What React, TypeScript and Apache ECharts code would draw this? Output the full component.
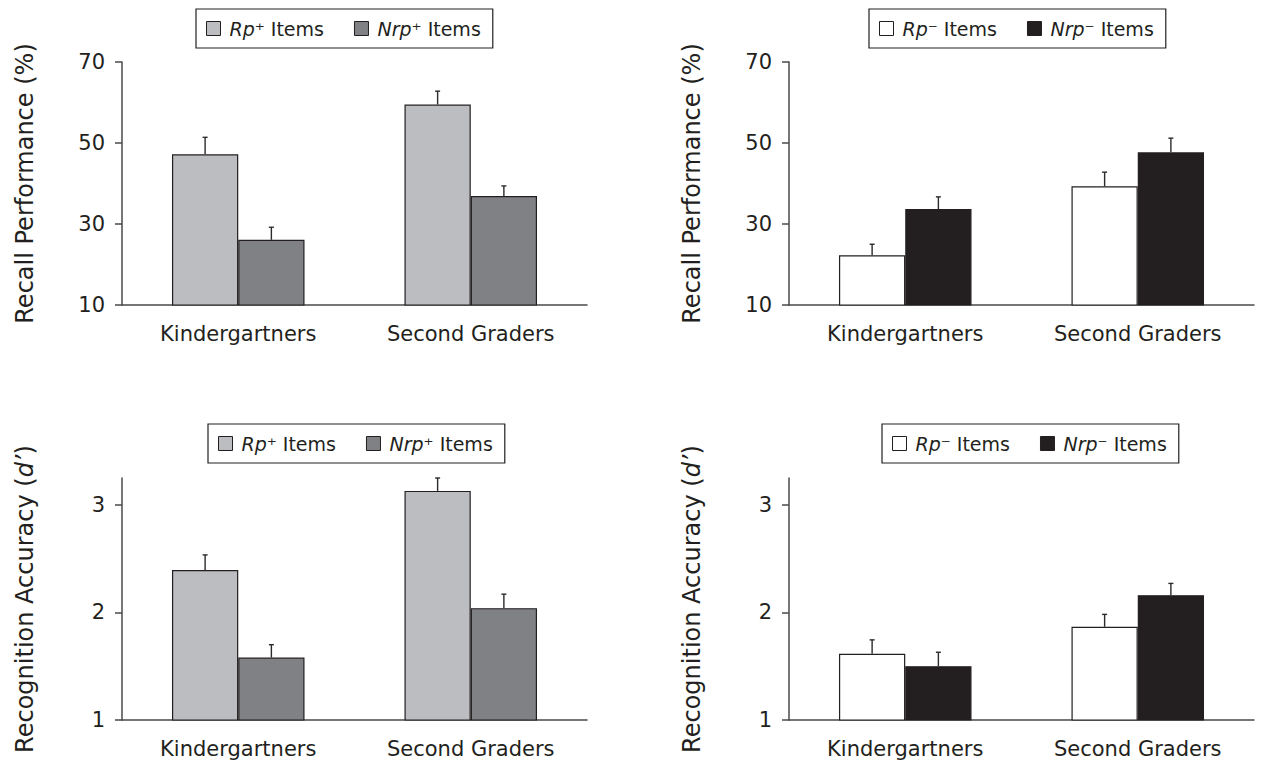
import React, { useEffect, useRef } from "react";
import * as echarts from "echarts";

const categories = ["Kindergartners", "Second Graders"];

// Recall performance (%)
const rpPlusRecall = [47.2, 59.5];
const rpPlusRecallErr = [4.2, 3.3];
const nrpPlusRecall = [26.1, 36.9];
const nrpPlusRecallErr = [3.1, 2.5];
const rpMinusRecall = [22.3, 39.3];
const rpMinusRecallErr = [2.7, 3.5];
const nrpMinusRecall = [33.7, 47.7];
const nrpMinusRecallErr = [3.0, 3.5];

// Recognition accuracy (d')
const rpPlusRecog = [2.395, 3.13];
const rpPlusRecogErr = [0.14, 0.12];
const nrpPlusRecog = [1.58, 2.04];
const nrpPlusRecogErr = [0.12, 0.13];
const rpMinusRecog = [1.615, 1.867];
const rpMinusRecogErr = [0.13, 0.115];
const nrpMinusRecog = [1.5, 2.16];
const nrpMinusRecogErr = [0.13, 0.11];

const recallTicks = [10, 30, 50, 70];
const recogTicks = [1, 2, 3];

const FONT = "DejaVu Sans";
const TEXT = "#231f20";
const AXIS = "#4a4a4a";

const COLORS: Record<string, string> = {
  "Rp⁺": "#bcbdc1",
  "Nrp⁺": "#808185",
  "Rp⁻": "#ffffff",
  "Nrp⁻": "#231f20",
};

const BAR_GAP_CAT = 0.43;

function barSeries(name: string, data: number[], axis: number) {
  return {
    type: "bar",
    name,
    xAxisIndex: axis,
    yAxisIndex: axis,
    data,
    barGap: "0%",
    barCategoryGap: BAR_GAP_CAT * 100 + "%",
    itemStyle: { color: COLORS[name], borderColor: "#231f20", borderWidth: 1.2 },
    z: 2,
  };
}

function errSeries(vals: number[], errs: number[], side: number, axis: number) {
  return {
    type: "custom",
    name: "err" + axis + side,
    xAxisIndex: axis,
    yAxisIndex: axis,
    z: 3,
    silent: true,
    encode: { x: 0, y: 1 },
    data: vals.map((v, i) => [i, v, errs[i]]),
    renderItem: (params: any, api: any) => {
      const idx = api.value(0);
      const v = api.value(1);
      const e = api.value(2);
      const band = api.size([1, 0])[0];
      const off = side * band * ((1 - BAR_GAP_CAT) / 4);
      const p0 = api.coord([idx, v]);
      const p1 = api.coord([idx, v + e]);
      const x = p0[0] + off;
      const st = { stroke: "#2a2a2a", lineWidth: 1.4 };
      return {
        type: "group",
        children: [
          { type: "line", shape: { x1: x, y1: p0[1], x2: x, y2: p1[1] }, style: st },
          { type: "line", shape: { x1: x - 2.5, y1: p1[1], x2: x + 2.5, y2: p1[1] }, style: st },
        ],
      };
    },
  };
}

function legend(names: string[], left: number, top: number) {
  return {
    data: names,
    left,
    top,
    orient: "horizontal",
    icon: "rect",
    itemWidth: 14,
    itemHeight: 14,
    itemGap: 30,
    padding: [10, 12, 10, 10],
    borderColor: "#231f20",
    borderWidth: 1.2,
    selectedMode: false,
    itemStyle: { borderColor: "#231f20", borderWidth: 1 },
    formatter: (name: string) => `{i|${name.slice(0, -1)}}{n|${name.slice(-1)} Items}`,
    textStyle: {
      fontFamily: FONT,
      fontSize: 19,
      color: TEXT,
      rich: {
        i: { fontFamily: FONT, fontSize: 19, fontStyle: "italic", color: TEXT, padding: [0, 0, 0, 4] },
        n: { fontFamily: FONT, fontSize: 19, color: TEXT },
      },
    },
  };
}

function xAxis(grid: number) {
  return {
    type: "category",
    gridIndex: grid,
    data: categories,
    axisLine: { lineStyle: { color: AXIS, width: 1.5 } },
    axisTick: { show: false },
    axisLabel: { fontFamily: FONT, fontSize: 21, color: TEXT, margin: 18 },
  };
}

function yAxis(grid: number, min: number, max: number, ticks: number[], name: string, rich: boolean) {
  return {
    type: "value",
    gridIndex: grid,
    min,
    max,
    name,
    nameLocation: "middle",
    nameGap: 85,
    nameTextStyle: {
      fontFamily: FONT,
      fontSize: 24,
      color: TEXT,
      rich: rich
        ? {
            n: { fontFamily: FONT, fontSize: 24, color: TEXT },
            i: { fontFamily: FONT, fontSize: 24, color: TEXT, fontStyle: "italic" },
          }
        : undefined,
    },
    splitLine: { show: false },
    axisLine: { show: true, lineStyle: { color: AXIS, width: 1.5 } },
    axisTick: { show: true, length: 7, customValues: ticks, lineStyle: { color: AXIS, width: 1.5 } },
    axisLabel: { fontFamily: FONT, fontSize: 21, color: TEXT, margin: 17, customValues: ticks },
  };
}

export default function App() {
  const ref = useRef<HTMLDivElement>(null);
  useEffect(() => {
    if (!ref.current) return;
    const chart = echarts.init(ref.current, null, { renderer: "svg" });
    const recallName = "Recall Performance (%)";
    const recogName = "{n|Recognition Accuracy (}{i|d’}{n|)}";
    chart.setOption({
      animation: false,
      backgroundColor: "#ffffff",
      textStyle: { fontFamily: FONT },
      grid: [
        { left: 122, top: 62, width: 465, height: 243 },
        { left: 789, top: 62, width: 465, height: 243 },
        { left: 122, top: 478, width: 465, height: 242 },
        { left: 789, top: 478, width: 465, height: 242 },
      ],
      legend: [
        legend(["Rp⁺", "Nrp⁺"], 196, 9),
        legend(["Rp⁻", "Nrp⁻"], 869, 9),
        legend(["Rp⁺", "Nrp⁺"], 208, 424),
        legend(["Rp⁻", "Nrp⁻"], 882, 424),
      ],
      xAxis: [xAxis(0), xAxis(1), xAxis(2), xAxis(3)],
      yAxis: [
        yAxis(0, 10, 70, recallTicks, recallName, false),
        yAxis(1, 10, 70, recallTicks, recallName, false),
        yAxis(2, 1, 3.25, recogTicks, recogName, true),
        yAxis(3, 1, 3.25, recogTicks, recogName, true),
      ],
      series: [
        barSeries("Rp⁺", rpPlusRecall, 0),
        barSeries("Nrp⁺", nrpPlusRecall, 0),
        errSeries(rpPlusRecall, rpPlusRecallErr, -1, 0),
        errSeries(nrpPlusRecall, nrpPlusRecallErr, 1, 0),
        barSeries("Rp⁻", rpMinusRecall, 1),
        barSeries("Nrp⁻", nrpMinusRecall, 1),
        errSeries(rpMinusRecall, rpMinusRecallErr, -1, 1),
        errSeries(nrpMinusRecall, nrpMinusRecallErr, 1, 1),
        barSeries("Rp⁺", rpPlusRecog, 2),
        barSeries("Nrp⁺", nrpPlusRecog, 2),
        errSeries(rpPlusRecog, rpPlusRecogErr, -1, 2),
        errSeries(nrpPlusRecog, nrpPlusRecogErr, 1, 2),
        barSeries("Rp⁻", rpMinusRecog, 3),
        barSeries("Nrp⁻", nrpMinusRecog, 3),
        errSeries(rpMinusRecog, rpMinusRecogErr, -1, 3),
        errSeries(nrpMinusRecog, nrpMinusRecogErr, 1, 3),
      ],
    });
    return () => chart.dispose();
  }, []);
  return (
    <div
      ref={ref}
      style={{ position: "fixed", left: 0, top: 0, width: 1261, height: 767, background: "#fff" }}
    />
  );
}
